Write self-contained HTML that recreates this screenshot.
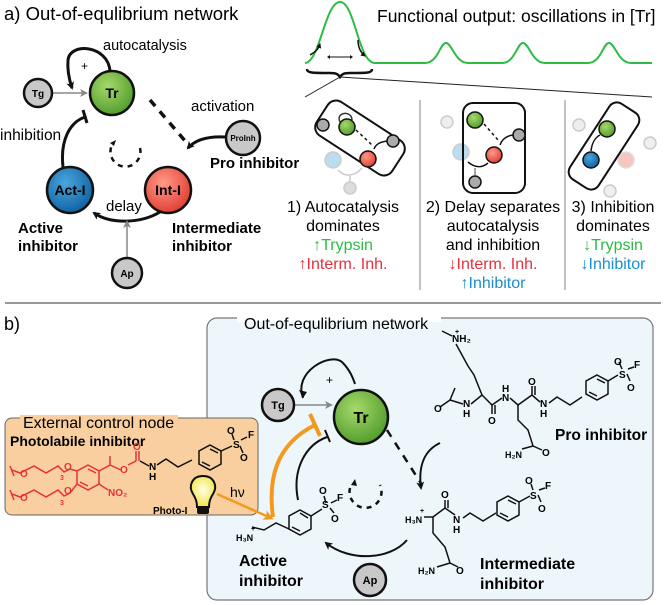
<!DOCTYPE html>
<html><head><meta charset="utf-8"><style>
html,body{margin:0;padding:0;background:#fff}
svg{display:block}
text{font-family:"Liberation Sans",sans-serif}
.b{font-weight:bold}
</style></head><body>
<svg width="666" height="605" viewBox="0 0 666 605" xmlns="http://www.w3.org/2000/svg">
<defs>
<marker id="ah" markerWidth="8" markerHeight="8" refX="6" refY="4" orient="auto" markerUnits="userSpaceOnUse"><path d="M0,0 L8,4 L0,8 L2,4z" fill="#111"/></marker>
<marker id="ahg" markerWidth="8" markerHeight="8" refX="6" refY="4" orient="auto" markerUnits="userSpaceOnUse"><path d="M0,0 L8,4 L0,8 L2,4z" fill="#888"/></marker>
<marker id="aho" markerWidth="10" markerHeight="10" refX="7" refY="5" orient="auto" markerUnits="userSpaceOnUse"><path d="M0,0 L10,5 L0,10 L2,5z" fill="#f39a1e"/></marker>
<marker id="ahs" markerWidth="5" markerHeight="5" refX="4" refY="2.5" orient="auto" markerUnits="userSpaceOnUse"><path d="M0,0 L5,2.5 L0,5z" fill="#111"/></marker>
<radialGradient id="gG" cx="0.4" cy="0.35" r="0.7"><stop offset="0" stop-color="#a6d96a"/><stop offset="1" stop-color="#4e9a2a"/></radialGradient>
<radialGradient id="gR" cx="0.4" cy="0.35" r="0.7"><stop offset="0" stop-color="#ff9a8a"/><stop offset="1" stop-color="#e03a2e"/></radialGradient>
<radialGradient id="gB" cx="0.4" cy="0.35" r="0.7"><stop offset="0" stop-color="#4aa6dc"/><stop offset="1" stop-color="#0d5fa0"/></radialGradient>
<radialGradient id="gY" cx="0.5" cy="0.45" r="0.6"><stop offset="0" stop-color="#ffffe8"/><stop offset="1" stop-color="#f1e33a"/></radialGradient>
</defs>

<!-- ===== Part a ===== -->
<text x="4" y="20" font-size="18.5">a) Out-of-equlibrium network</text>

<path d="M110,71 C108,45 70,42 68,60 C67,72 70,82 72,88" fill="none" stroke="#111" stroke-width="3" marker-end="url(#ah)"/>
<text x="103" y="50" font-size="14.5">autocatalysis</text>
<text x="81" y="70" font-size="12">+</text>
<line x1="52" y1="93" x2="86" y2="93" stroke="#888" stroke-width="1.5" marker-end="url(#ahg)"/>
<circle cx="38" cy="93" r="14" fill="#c8c8c8" stroke="#111" stroke-width="2.5"/>
<text x="38" y="97" font-size="10" class="b" text-anchor="middle">Tg</text>
<circle cx="112" cy="93" r="22" fill="url(#gG)" stroke="#111" stroke-width="2.5"/>
<text x="112" y="98" font-size="14" class="b" text-anchor="middle">Tr</text>
<path d="M150,100 L186,142" fill="none" stroke="#111" stroke-width="3.5" stroke-dasharray="8,7"/>
<text x="191" y="111" font-size="15">activation</text>
<path d="M226,137 C208,136 195,140 188,148" fill="none" stroke="#111" stroke-width="3" marker-end="url(#ah)"/>
<circle cx="243" cy="138" r="17" fill="#c8c8c8" stroke="#111" stroke-width="2.5"/>
<text x="243" y="141" font-size="8" class="b" text-anchor="middle">ProInh</text>
<text x="210" y="168" font-size="15" class="b">Pro inhibitor</text>
<path d="M140,148 A15,15 0 1,1 112,145" fill="none" stroke="#111" stroke-width="2.5" stroke-dasharray="5,5"/>
<path d="M110,143 l6,-3 l-2,6z" fill="#111"/>
<circle cx="168" cy="190" r="23" fill="url(#gR)" stroke="#111" stroke-width="2.5"/>
<text x="168" y="195" font-size="14" class="b" text-anchor="middle">Int-I</text>
<circle cx="70" cy="190" r="23" fill="url(#gB)" stroke="#111" stroke-width="2.5"/>
<text x="70" y="195" font-size="14" class="b" text-anchor="middle">Act-I</text>
<path d="M63,167 C60,140 70,122 85,117" fill="none" stroke="#111" stroke-width="3"/>
<line x1="83" y1="110" x2="87" y2="123" stroke="#111" stroke-width="3"/>
<text x="0" y="140" font-size="15.5">inhibition</text>
<path d="M160,212 C140,224 110,224 94,213" fill="none" stroke="#111" stroke-width="3" marker-end="url(#ah)"/>
<text x="106" y="211" font-size="15">delay</text>
<line x1="127" y1="258" x2="127" y2="222" stroke="#888" stroke-width="1.5" marker-end="url(#ahg)"/>
<circle cx="127" cy="273" r="15" fill="#c8c8c8" stroke="#111" stroke-width="2.5"/>
<text x="127" y="277" font-size="10" class="b" text-anchor="middle">Ap</text>
<text x="18" y="233" font-size="15" class="b">Active</text>
<text x="18" y="251" font-size="15" class="b">inhibitor</text>
<text x="172" y="233" font-size="15" class="b">Intermediate</text>
<text x="172" y="251" font-size="15" class="b">inhibitor</text>

<path d="M305,63 C320,62 325,2 340,2 C355,2 358,63 375,63 L425,63 C438,63 440,43 446,43 C452,43 455,63 468,63 L502,63 C515,63 517,43 523,43 C529,43 532,63 545,63 L588,63 C601,63 603,43 609,43 C615,43 618,63 631,63 L652,63" fill="none" stroke="#2dbb45" stroke-width="2"/>
<text x="377" y="22" font-size="17.5">Functional output: oscillations in [Tr]</text>
<line x1="328" y1="57" x2="352" y2="57" stroke="#111" stroke-width="1"/>
<path d="M330,55 l-3,2 l3,2z M350,55 l3,2 l-3,2z" fill="#111"/>
<path d="M310,55 C315,52 318,50 320,44" fill="none" stroke="#111" stroke-width="1.5" marker-end="url(#ahs)"/>
<path d="M358,40 C358,47 360,52 365,56" fill="none" stroke="#111" stroke-width="1.5" marker-end="url(#ahs)"/>
<path d="M307,69 C307,73 312,73 330,73 C336,73 338,74 340,77 C342,74 344,73 350,73 C368,73 372,73 372,69" fill="none" stroke="#111" stroke-width="2.5"/>
<line x1="340" y1="77" x2="305" y2="97" stroke="#222" stroke-width="1"/>
<line x1="340" y1="77" x2="652" y2="97" stroke="#222" stroke-width="1"/>
<line x1="420" y1="100" x2="420" y2="290" stroke="#999" stroke-width="1.2"/>
<line x1="565" y1="100" x2="565" y2="290" stroke="#999" stroke-width="1.2"/>

<g stroke-width="1.5">
<circle cx="333" cy="160" r="8" fill="#bcdcf0" stroke="#ccc"/>
<circle cx="350" cy="188" r="6" fill="#ddd" stroke="#ccc"/>
<path d="M350,182 L350,176 M338,170 C345,178 355,176 362,168" stroke="#ccc" fill="none"/>
<rect x="-45" y="-20" width="90" height="40" rx="10" transform="translate(360,138) rotate(33)" fill="none" stroke="#111" stroke-width="2"/>
<path d="M340,122 C335,112 352,110 352,120" stroke="#333" fill="none"/>
<circle cx="323" cy="125" r="6" fill="#aaa" stroke="#111"/>
<circle cx="347" cy="127" r="8" fill="url(#gG)" stroke="#111"/>
<circle cx="393" cy="141" r="6" fill="#aaa" stroke="#111"/>
<circle cx="368" cy="159" r="8" fill="url(#gR)" stroke="#111"/>
<path d="M356,130 L372,145" stroke="#111" stroke-dasharray="3,3"/>
<path d="M387,141 C380,142 376,144 374,149" stroke="#111" fill="none"/>
</g>
<g stroke-width="1.5">
<circle cx="447" cy="122" r="6" fill="#eee" stroke="#ccc"/>
<circle cx="461" cy="152" r="8" fill="#bcdcf0" stroke="#ccc"/>
<rect x="463" y="103" width="62" height="90" rx="10" fill="none" stroke="#111" stroke-width="2"/>
<circle cx="475" cy="120" r="8" fill="url(#gG)" stroke="#111"/>
<circle cx="519" cy="135" r="6" fill="#aaa" stroke="#111"/>
<circle cx="494" cy="155" r="8" fill="url(#gR)" stroke="#111"/>
<circle cx="475" cy="182" r="6" fill="#aaa" stroke="#111"/>
<path d="M484,124 L498,140" stroke="#111" stroke-dasharray="3,3"/>
<path d="M513,135 C506,136 502,139 500,145" stroke="#111" fill="none"/>
<path d="M488,163 C482,168 475,168 468,162" stroke="#111" fill="none"/>
<path d="M475,175 L475,168" stroke="#888"/>
</g>
<g stroke-width="1.5">
<circle cx="579" cy="125" r="6" fill="#eee" stroke="#ccc"/>
<circle cx="650" cy="143" r="6" fill="#eee" stroke="#ccc"/>
<circle cx="626" cy="160" r="8" fill="#f7c6c0" stroke="#ddd"/>
<circle cx="610" cy="191" r="6" fill="#eee" stroke="#ccc"/>
<rect x="-45" y="-17" width="90" height="34" rx="9" transform="translate(604,146) rotate(-57)" fill="none" stroke="#111" stroke-width="2"/>
<circle cx="607" cy="129" r="8" fill="url(#gG)" stroke="#111"/>
<circle cx="591" cy="160" r="8" fill="url(#gB)" stroke="#111"/>
<path d="M591,151 C592,142 596,137 600,135" stroke="#111" fill="none"/>
</g>
<g font-size="16" text-anchor="middle">
<text x="343" y="212">1) Autocatalysis</text>
<text x="343" y="231">dominates</text>
<text x="343" y="250" fill="#2dbb45">↑Trypsin</text>
<text x="343" y="269" fill="#e8303a">↑Interm. Inh.</text>
<text x="493" y="212">2) Delay separates</text>
<text x="493" y="231">autocatalysis</text>
<text x="493" y="250">and inhibition</text>
<text x="493" y="269" fill="#e8303a">↓Interm. Inh.</text>
<text x="493" y="288" fill="#1a8fd0">↑Inhibitor</text>
<text x="613" y="212">3) Inhibition</text>
<text x="613" y="231">dominates</text>
<text x="613" y="250" fill="#2dbb45">↓Trypsin</text>
<text x="613" y="269" fill="#1a8fd0">↓Inhibitor</text>
</g>

<line x1="5" y1="303" x2="661" y2="303" stroke="#777" stroke-width="1.5"/>

<!-- ===== Part b ===== -->
<text x="4" y="330" font-size="18">b)</text>
<rect x="207" y="318" width="446" height="282" rx="10" fill="#edf6fb" stroke="#777" stroke-width="1.2"/>
<rect x="237" y="315" width="204" height="7" fill="#fff"/>
<text x="244" y="329" font-size="16">Out-of-equlibrium network</text>

<path d="M303,398 C293,372 330,352 342,362 C350,370 353,378 355,384" fill="none" stroke="#111" stroke-width="2"/>
<path d="M303,398 l-4,-8 l8,2z" fill="#111"/>
<text x="326" y="384" font-size="12">+</text>
<line x1="295" y1="405" x2="331" y2="405" stroke="#888" stroke-width="1.5" marker-end="url(#ahg)"/>
<circle cx="278" cy="405" r="16" fill="#c8c8c8" stroke="#111" stroke-width="2.5"/>
<text x="278" y="409" font-size="11" class="b" text-anchor="middle">Tg</text>
<circle cx="361" cy="417" r="27" fill="url(#gG)" stroke="#111" stroke-width="2.5"/>
<text x="361" y="423" font-size="16" class="b" text-anchor="middle">Tr</text>
<path d="M387,430 L422,485" fill="none" stroke="#111" stroke-width="2.5" stroke-dasharray="8,7"/>
<path d="M440,443 C425,450 418,465 421,488" fill="none" stroke="#111" stroke-width="2" marker-end="url(#ah)"/>
<path d="M350,488 A16,16 0 1,0 380,485" fill="none" stroke="#111" stroke-width="2.5" stroke-dasharray="5,5"/>
<path d="M351,485 l4,-6 l2,7z" fill="#111"/>
<path d="M298,500 C292,470 305,445 327,437" fill="none" stroke="#111" stroke-width="2"/>
<line x1="325" y1="430" x2="330" y2="442" stroke="#111" stroke-width="2"/>
<path d="M407,540 C390,560 350,562 326,543" fill="none" stroke="#111" stroke-width="2" marker-end="url(#ah)"/>
<circle cx="370" cy="580" r="16" fill="#c8c8c8" stroke="#111" stroke-width="2.5"/>
<text x="370" y="584" font-size="11" class="b" text-anchor="middle">Ap</text>

<g stroke="#111" stroke-width="1.5" fill="none">
<polygon points="300,510 311,516 311,529 300,535 289,529 289,516"/>
<line x1="300" y1="513" x2="308" y2="518"/><line x1="292" y1="527" x2="300" y2="531"/>
<polyline points="289,529 276,523 264,530 252,527"/>
<line x1="311" y1="516" x2="322" y2="509"/>
<line x1="326" y1="503" x2="324" y2="496"/><line x1="330" y1="508" x2="334" y2="513"/><line x1="331" y1="503" x2="337" y2="500"/>
</g>
<g font-size="10" class="b">
<text x="319" y="494">O</text><text x="322" y="508">S</text><text x="337" y="501">F</text><text x="331" y="522">O</text>
<text x="236" y="541" font-size="9">H₃N</text><text x="251" y="531" font-size="7">+</text>
</g>
<text x="239" y="566" font-size="16" class="b">Active</text>
<text x="239" y="586" font-size="16" class="b">inhibitor</text>

<g stroke="#111" stroke-width="1.5" fill="none">
<line x1="442" y1="331" x2="452" y2="336"/>
<polyline points="456,344 462,355 468,366 474,375 482,395"/>
<polyline points="440,407 450,400 455,388"/>
<line x1="450" y1="400" x2="463" y2="404"/>
<polyline points="471,404 482,395 492,405 502,398"/>
<line x1="492" y1="405" x2="492" y2="414"/><line x1="495" y1="405" x2="495" y2="414"/>
<polyline points="510,398 518,405 532,395 540,402"/>
<line x1="532" y1="395" x2="532" y2="386"/><line x1="535" y1="395" x2="535" y2="386"/>
<polyline points="549,403 557,397 570,405 582,397"/>
<polygon points="597,375 608,381 608,394 597,400 586,394 586,381"/>
<line x1="597" y1="379" x2="605" y2="383"/><line x1="589" y1="392" x2="597" y2="396"/>
<line x1="608" y1="381" x2="618" y2="375"/>
<line x1="622" y1="369" x2="619" y2="362"/><line x1="627" y1="374" x2="630" y2="381"/><line x1="628" y1="369" x2="634" y2="367"/>
<polyline points="518,405 518,420 528,430 533,446 542,450"/>
<line x1="533" y1="446" x2="522" y2="449"/>
</g>
<g font-size="10" class="b">
<text x="452" y="342">NH₂</text><text x="455" y="334" font-size="7">+</text>
<text x="434" y="412">O</text>
<text x="463" y="407">N</text><text x="463" y="417">H</text>
<text x="488" y="424">O</text>
<text x="502" y="401">N</text><text x="502" y="392">H</text>
<text x="528" y="385">O</text>
<text x="540" y="407">N</text><text x="540" y="417">H</text>
<text x="614" y="365">O</text><text x="619" y="378">S</text><text x="634" y="368">F</text><text x="627" y="391">O</text>
<text x="505" y="458" font-size="9">H₂N</text><text x="542" y="456">O</text>
</g>
<text x="555" y="440" font-size="15.5" class="b">Pro inhibitor</text>

<g stroke="#111" stroke-width="1.5" fill="none">
<polyline points="424,517 433,517 445,508 455,515"/>
<line x1="445" y1="508" x2="445" y2="500"/><line x1="448" y1="508" x2="448" y2="500"/>
<polyline points="463,518 470,513 483,521 496,513"/>
<polygon points="508,496 519,502 519,515 508,521 497,515 497,502"/>
<line x1="508" y1="500" x2="516" y2="504"/><line x1="500" y1="513" x2="508" y2="517"/>
<line x1="519" y1="502" x2="530" y2="496"/>
<line x1="533" y1="490" x2="531" y2="484"/><line x1="538" y1="495" x2="541" y2="502"/><line x1="539" y1="490" x2="545" y2="488"/>
<polyline points="433,517 433,533 445,547 450,563 458,567"/>
<line x1="450" y1="563" x2="437" y2="567"/>
</g>
<g font-size="10" class="b">
<text x="405" y="523" font-size="9">H₃N</text><text x="420" y="513" font-size="7">+</text>
<text x="441" y="498">O</text>
<text x="453" y="523">N</text><text x="453" y="533">H</text>
<text x="525" y="484">O</text><text x="530" y="499">S</text><text x="545" y="489">F</text><text x="538" y="512">O</text>
<text x="418" y="574" font-size="9">H₂N</text><text x="456" y="574">O</text>
</g>
<text x="480" y="569" font-size="16" class="b">Intermediate</text>
<text x="480" y="589" font-size="16" class="b">inhibitor</text>

<rect x="5" y="418" width="253" height="97" rx="7" fill="#f9cf9f" stroke="#666" stroke-width="1"/>
<rect x="20" y="415" width="158" height="6" fill="#f9cf9f"/>
<text x="23" y="428" font-size="16">External control node</text>
<text x="10" y="446" font-size="14" class="b">Photolabile inhibitor</text>
<g stroke="#e8303a" stroke-width="1.5" fill="none">
<polygon points="88,465 99,471 99,484 88,490 77,484 77,471"/>
<line x1="88" y1="469" x2="96" y2="473"/><line x1="80" y1="482" x2="88" y2="486"/>
<polyline points="12,470 20,473 34,466 46,473 58,466 64,472 70,469 77,471"/>
<polyline points="12,494 20,497 34,490 46,497 58,490 64,496 70,493 77,484"/>
<line x1="10" y1="466" x2="14" y2="476"/><line x1="10" y1="490" x2="14" y2="500"/>
<polyline points="99,471 110,465 110,456"/>
<line x1="110" y1="465" x2="121" y2="470"/>
<line x1="128" y1="465" x2="136" y2="461"/>
<line x1="136" y1="461" x2="136" y2="451"/><line x1="139" y1="461" x2="139" y2="451"/>
<line x1="99" y1="484" x2="108" y2="490"/>
</g>
<g font-size="10" fill="#e8303a" class="b">
<text x="20" y="477">O</text><text x="64" y="470">O</text>
<text x="20" y="501">O</text><text x="64" y="494">O</text>
<text x="60" y="480" font-size="7">3</text><text x="60" y="505" font-size="7">3</text>
<text x="120" y="473">O</text><text x="133" y="450">O</text>
<text x="108" y="496">NO₂</text>
</g>
<g stroke="#111" stroke-width="1.5" fill="none">
<line x1="140" y1="461" x2="149" y2="466"/>
<polyline points="157,465 166,459 178,467 192,460"/>
<polygon points="210,445 221,451 221,464 210,470 199,464 199,451"/>
<line x1="210" y1="449" x2="218" y2="453"/><line x1="202" y1="462" x2="210" y2="466"/>
<line x1="221" y1="451" x2="232" y2="446"/>
<line x1="234" y1="440" x2="232" y2="434"/><line x1="240" y1="446" x2="243" y2="453"/><line x1="241" y1="440" x2="247" y2="437"/>
</g>
<g font-size="10" class="b">
<text x="149" y="470">N</text><text x="149" y="480">H</text>
<text x="227" y="434">O</text><text x="233" y="448">S</text><text x="248" y="438">F</text><text x="240" y="461">O</text>
</g>
<path d="M203,476 C192,476 188,486 193,494 C196,499 197,502 197,507 L209,507 C209,502 210,499 213,494 C218,486 214,476 203,476z" fill="url(#gY)" stroke="#111" stroke-width="2"/>
<rect x="197" y="507" width="12" height="7" rx="2" fill="#111"/>
<text x="153" y="514" font-size="10" class="b">Photo-I</text>
<text x="230" y="497" font-size="14">hν</text>
<line x1="217" y1="494" x2="271" y2="518" stroke="#f39a1e" stroke-width="2.5" marker-end="url(#aho)"/>
<path d="M273,517 C268,480 275,445 315,425" fill="none" stroke="#f39a1e" stroke-width="4"/>
<line x1="310" y1="414" x2="320" y2="436" stroke="#f39a1e" stroke-width="4"/>
</svg>
</body></html>
